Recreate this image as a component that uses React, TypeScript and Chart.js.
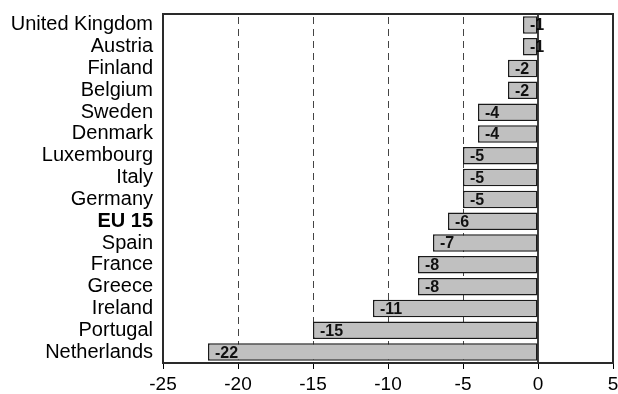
import React, { useEffect, useRef } from "react";
import { Chart, registerables } from "chart.js";

Chart.register(...registerables);

const categories = [
  "United Kingdom", "Austria", "Finland", "Belgium", "Sweden", "Denmark",
  "Luxembourg", "Italy", "Germany", "EU 15", "Spain", "France", "Greece",
  "Ireland", "Portugal", "Netherlands",
];
const values = [-1, -1, -2, -2, -4, -4, -5, -5, -5, -6, -7, -8, -8, -11, -15, -22];
const xMin = -25;
const xMax = 5;
const xStep = 5;
const dashedAt = [-20, -15, -10, -5];
const boldCategory = "EU 15";

const FONT = "'Liberation Sans', Arial, Helvetica, sans-serif";

const decorPlugin = {
  id: "decor",
  beforeDatasetsDraw(chart: any) {
    const { ctx, chartArea } = chart;
    const xs = chart.scales.x;
    ctx.save();
    ctx.strokeStyle = "#444";
    ctx.lineWidth = 1;
    ctx.setLineDash([7, 5]);
    dashedAt.forEach((v) => {
      const x = Math.round(xs.getPixelForValue(v)) + 0.5;
      ctx.beginPath();
      ctx.moveTo(x, chartArea.top + 3);
      ctx.lineTo(x, chartArea.bottom);
      ctx.stroke();
    });
    ctx.restore();
  },
  afterDatasetsDraw(chart: any) {
    const { ctx, chartArea } = chart;
    const xs = chart.scales.x;
    const meta = chart.getDatasetMeta(0);
    ctx.save();
    ctx.font = `bold 16px ${FONT}`;
    ctx.fillStyle = "#111";
    ctx.textAlign = "left";
    ctx.textBaseline = "middle";
    meta.data.forEach((bar: any, i: number) => {
      const v = values[i];
      const x = xs.getPixelForValue(v) + 7;
      ctx.fillText(String(v), x, bar.y + 1);
    });
    // zero line
    const x0 = xs.getPixelForValue(0);
    ctx.strokeStyle = "#000";
    ctx.lineWidth = 1.5;
    ctx.beginPath();
    ctx.moveTo(x0, chartArea.top);
    ctx.lineTo(x0, chartArea.bottom);
    ctx.stroke();
    // box
    ctx.strokeStyle = "#2a2a2a";
    ctx.lineWidth = 2;
    ctx.strokeRect(
      chartArea.left,
      chartArea.top,
      chartArea.right - chartArea.left,
      chartArea.bottom - chartArea.top
    );
    ctx.restore();
  },
};

export default function App() {
  const ref = useRef<HTMLCanvasElement | null>(null);
  useEffect(() => {
    document.body.style.margin = "0";
    const canvas = ref.current;
    if (!canvas) return;
    const chart = new Chart(canvas, {
      type: "bar",
      data: {
        labels: categories,
        datasets: [
          {
            data: values,
            backgroundColor: "#c0c0c0",
            borderColor: "#1a1a1a",
            borderWidth: 1.5,
            borderSkipped: false,
            barPercentage: 0.8,
            categoryPercentage: 1,
          },
        ],
      },
      options: {
        indexAxis: "y",
        animation: false,
        responsive: false,
        devicePixelRatio: 1,
        layout: { padding: { left: 0, right: 5, top: 14, bottom: 0 } },
        plugins: {
          legend: { display: false },
          tooltip: { enabled: false },
        },
        scales: {
          x: {
            min: xMin,
            max: xMax,
            ticks: {
              stepSize: xStep,
              color: "#000",
              font: { family: FONT, size: 19 },
              padding: 4,
            },
            grid: {
              display: true,
              drawOnChartArea: false,
              drawTicks: true,
              tickLength: 6,
              tickColor: "#000",
              tickWidth: 1,
            },
            border: { display: false },
            afterFit: (s: any) => {
              s.height = 31;
              s.paddingLeft = 0;
              s.paddingRight = 0;
              s.paddingTop = 0;
              s.paddingBottom = 0;
            },
          },
          y: {
            ticks: {
              color: "#000",
              padding: 10,
              autoSkip: false,
              font: (c: any) => ({
                family: FONT,
                size: 20,
                weight: categories[c.index] === boldCategory ? "bold" : "normal",
              }),
            },
            grid: { display: false, drawTicks: false },
            border: { display: false },
            afterFit: (s: any) => {
              s.width = 163;
              s.paddingLeft = 0;
              s.paddingRight = 0;
              s.paddingTop = 0;
              s.paddingBottom = 0;
            },
          },
        },
      },
      plugins: [decorPlugin],
    } as any);
    return () => chart.destroy();
  }, []);
  return (
    <div style={{ width: 618, height: 394 }}>
      <canvas ref={ref} width={618} height={394} />
    </div>
  );
}
